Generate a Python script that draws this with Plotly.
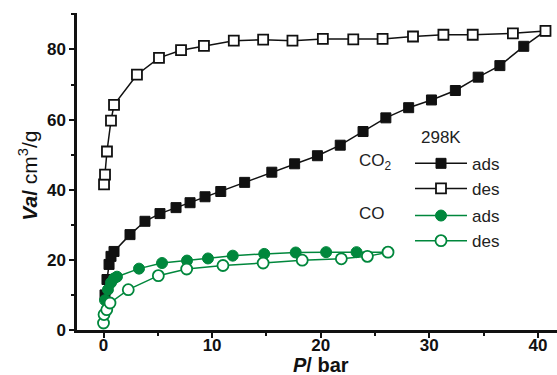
import plotly.graph_objects as go

# CO2 adsorption (filled squares)
co2_ads_p = [0.14, 0.32, 0.51, 0.69, 0.97, 2.44, 3.82, 5.2, 6.68, 7.97, 9.35, 10.8,
             13.0, 15.5, 17.6, 19.7, 21.8, 23.9, 26.0, 28.1, 30.2, 32.4, 34.5, 36.5, 38.7, 40.7]
co2_ads_v = [10.0, 14.4, 18.7, 21.0, 22.4, 27.2, 31.0, 33.2, 34.9, 36.3, 38.0, 39.5,
             42.1, 45.0, 47.4, 49.7, 52.7, 56.6, 60.5, 63.4, 65.6, 68.3, 72.1, 75.4, 80.9, 85.3]
# CO2 desorption (open squares)
co2_des_p = [0.05, 0.14, 0.32, 0.69, 0.97, 3.08, 5.11, 7.14, 9.25, 12.0, 14.7, 17.4,
             20.2, 23.0, 25.7, 28.5, 31.3, 34.0, 37.7, 40.7]
co2_des_v = [41.5, 44.3, 50.9, 59.7, 64.2, 72.8, 77.6, 79.8, 81.0, 82.5, 82.8, 82.5,
             83.0, 82.9, 83.0, 83.7, 84.2, 84.2, 84.6, 85.3]
# CO adsorption (filled circles)
co_ads_p = [0.14, 0.41, 0.69, 0.97, 1.24, 3.27, 5.39, 7.69, 9.62, 11.9, 14.8, 17.7, 20.5, 23.3, 26.2]
co_ads_v = [8.5, 11.5, 13.5, 14.7, 15.2, 17.5, 19.1, 19.8, 20.4, 21.2, 21.7, 22.1, 22.2, 22.2, 22.2]
# CO desorption (open circles)
co_des_p = [0.0, 0.05, 0.3, 0.6, 2.28, 5.05, 7.66, 11.0, 14.7, 18.3, 21.9, 24.3, 26.2]
co_des_v = [2.0, 4.4, 5.8, 7.7, 11.5, 15.5, 17.4, 18.4, 19.1, 19.9, 20.3, 21.0, 22.2]

x_ticks = [0, 10, 20, 30, 40]
y_ticks = [0, 20, 40, 60, 80]

GREEN = "rgb(0,135,60)"
BLACK = "#111111"
FONT = "Liberation Sans, Arial"

fig = go.Figure()
fig.add_trace(go.Scatter(x=co2_ads_p, y=co2_ads_v, mode="lines+markers", name="ads",
                         legendgroup="co2",
                         line=dict(color=BLACK, width=1.5),
                         marker=dict(symbol="square", size=10, color=BLACK,
                                     line=dict(color=BLACK, width=1)),
                         cliponaxis=False))
fig.add_trace(go.Scatter(x=co2_des_p, y=co2_des_v, mode="lines+markers", name="des",
                         legendgroup="co2",
                         line=dict(color=BLACK, width=1.5),
                         marker=dict(symbol="square", size=10, color="white",
                                     line=dict(color=BLACK, width=1.8)),
                         cliponaxis=False))
fig.add_trace(go.Scatter(x=co_ads_p, y=co_ads_v, mode="lines+markers", name="ads",
                         legendgroup="co",
                         line=dict(color=GREEN, width=1.5),
                         marker=dict(symbol="circle", size=11, color=GREEN,
                                     line=dict(color=GREEN, width=1)),
                         cliponaxis=False))
fig.add_trace(go.Scatter(x=co_des_p, y=co_des_v, mode="lines+markers", name="des",
                         legendgroup="co",
                         line=dict(color=GREEN, width=1.5),
                         marker=dict(symbol="circle", size=11, color="white",
                                     line=dict(color=GREEN, width=1.8)),
                         cliponaxis=False))

axis_common = dict(showline=True, linecolor=BLACK, linewidth=2.5, showgrid=False,
                   zeroline=False, ticks="outside", ticklen=5, tickwidth=2,
                   tickcolor=BLACK,
                   tickfont=dict(family=FONT, size=17, color=BLACK, weight="bold"))

fig.update_xaxes(range=[-2.44, 41.76], tickvals=x_ticks, ticktext=[str(t) for t in x_ticks],
                 ticklabelstandoff=-7,
                 minor=dict(dtick=5, tick0=0, ticks="outside", ticklen=3, tickwidth=2,
                            tickcolor=BLACK),
                 **axis_common)
fig.update_yaxes(range=[0, 90.4], tickvals=y_ticks, ticktext=[str(t) for t in y_ticks],
                 minor=dict(dtick=10, tick0=0, ticks="outside", ticklen=3, tickwidth=2,
                            tickcolor=BLACK),
                 **axis_common)

def px_x(px):
    return (px - 77) / 480.0

def px_y(py):
    return (330.5 - py) / 317.5

annotations = [
    dict(text="298K", x=px_x(441), y=px_y(138)),
    dict(text="CO<sub>2</sub>", x=px_x(375), y=px_y(162)),
    dict(text="CO", x=px_x(372), y=px_y(214)),
]
anns = []
for a in annotations:
    anns.append(dict(text=a["text"], x=a["x"], y=a["y"], xref="paper", yref="paper",
                     showarrow=False, xanchor="center", yanchor="middle",
                     font=dict(family=FONT, size=17, color="#222")))
anns.append(dict(text="<b><i>Va</i>/</b> cm<sup>3</sup>/g", x=px_x(28), y=px_y(176),
                 xref="paper", yref="paper", showarrow=False, textangle=-90,
                 xanchor="center", yanchor="middle",
                 font=dict(family=FONT, size=21, color=BLACK)))
anns.append(dict(text="<b><i>P</i>/ bar</b>", x=px_x(321), y=px_y(366),
                 xref="paper", yref="paper", showarrow=False,
                 xanchor="center", yanchor="middle",
                 font=dict(family=FONT, size=20, color=BLACK)))

fig.update_layout(
    width=557, height=375,
    margin=dict(l=77, r=0, t=13, b=44.5),
    plot_bgcolor="white", paper_bgcolor="white",
    showlegend=True,
    legend=dict(x=px_x(410), y=px_y(146), xanchor="left", yanchor="top",
                bgcolor="rgba(0,0,0,0)", tracegroupgap=2,
                font=dict(family=FONT, size=17, color="#222"),
                itemwidth=52),
    annotations=anns,
)

fig.write_html("out.html")
